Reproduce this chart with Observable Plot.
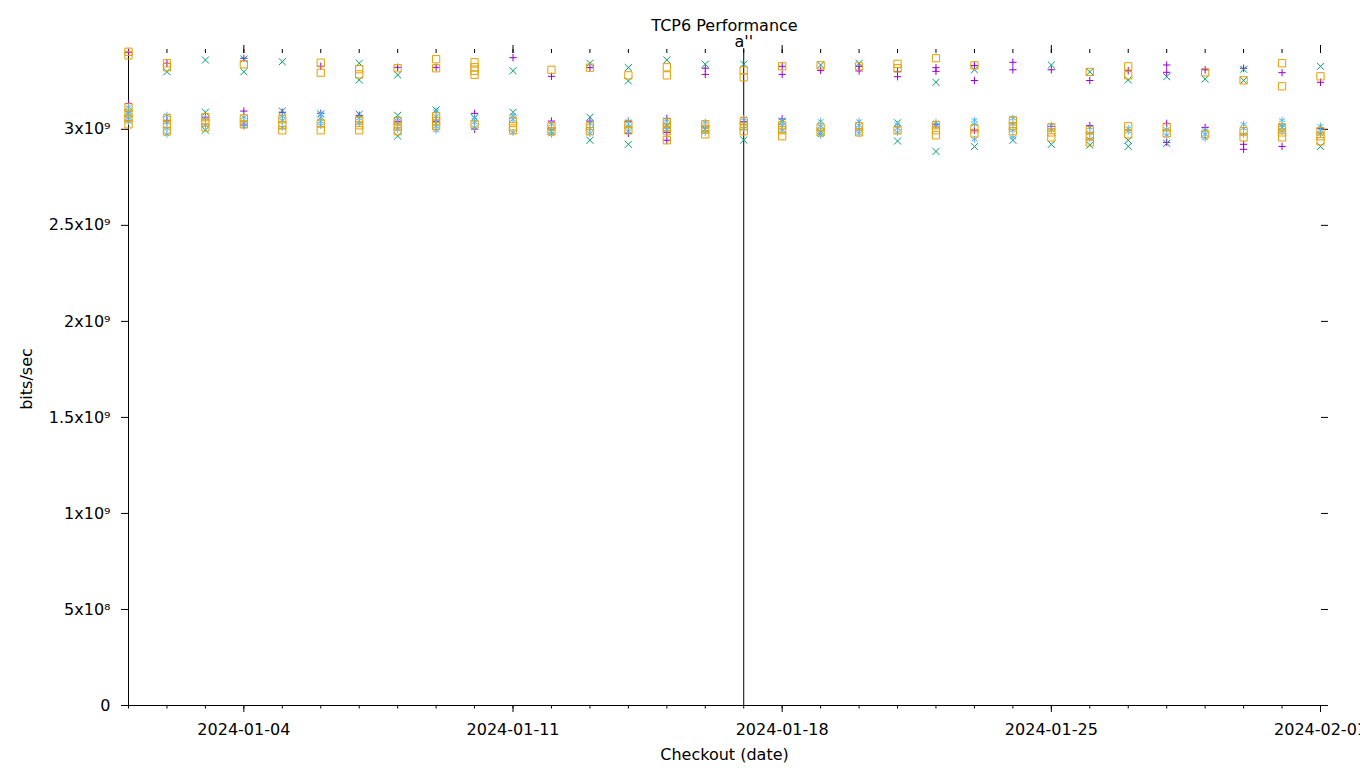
<!DOCTYPE html>
<html><head><meta charset="utf-8">
<script src="https://cdn.jsdelivr.net/npm/d3@7"></script>
<script src="https://cdn.jsdelivr.net/npm/@observablehq/plot@0.6"></script>
<style>
html,body{margin:0;padding:0;background:#fff;overflow:hidden}
#chart svg{display:block}
</style></head><body><div id="chart"></div>
<script>
// ---- data ----
const dates = ["2024-01-01","2024-01-02","2024-01-03","2024-01-04","2024-01-05","2024-01-06","2024-01-07","2024-01-08",
  "2024-01-09","2024-01-10","2024-01-11","2024-01-12","2024-01-13","2024-01-14","2024-01-15","2024-01-16",
  "2024-01-17","2024-01-18","2024-01-19","2024-01-20","2024-01-21","2024-01-22","2024-01-23","2024-01-24",
  "2024-01-25","2024-01-26","2024-01-27","2024-01-28","2024-01-29","2024-01-30","2024-01-31","2024-02-01"];

// values in Gbit/s (x1e9), one list per day
const seriesPlus = [
  [3.401,3.135,3.047],[3.344,3.047],[3.063],[3.370,3.095,3.022],[3.089],[3.328,3.083],[3.073],[3.323,3.042],
  [3.323,3.042],[3.083,3.001],[3.373],[3.276,3.043],[3.321,3.043],[3.042,2.979],[3.057,2.984,2.943],[3.318,3.286],
  [3.040],[3.328,3.286,3.054],[3.307],[3.328,3.304],[3.300,3.274],[3.321,3.302,3.026],[3.332,3.254,2.996],[3.349,3.310],
  [3.310,3.015],[3.254,3.020],[3.305],[3.335,3.297,3.031,2.932],[3.310,3.010],[3.318,2.922,2.896],[3.295,2.911],[3.245,3.005]
];
const seriesTimes = [
  [3.080],[3.300],[3.361,3.089,2.996],[3.366,3.300],[3.352,3.095],[3.080],[3.344,3.257,3.078],[3.283,3.073,2.965],
  [3.101],[3.060],[3.305,3.089],[2.990],[3.344,3.063,2.943],[3.321,3.252,2.922],[3.361,3.020],[3.339,3.000],
  [3.339,2.944],[3.040],[3.335,2.984],[3.344],[3.034,2.939],[3.245,2.885],[3.310,2.910],[2.943],
  [3.335,2.922],[3.299,2.918],[3.257,2.943,2.911],[3.274,2.927],[3.262],[3.313,3.255],[3.010],[3.328,2.911]
];
const seriesStar = [
  [3.115,3.090,3.060,3.040],[3.073,3.036,3.005,2.974],[3.057,3.021],[3.063,3.036,3.016],[3.068,3.047,3.010],[3.078,3.060,3.040,3.020],[3.057,3.031],[3.057,3.026,3.000],
  [3.094,3.068,3.042,3.016,2.995],[3.063,3.036,3.010],[3.073,3.050,2.984],[3.026,3.000,2.974],[3.031,3.005,2.979],[3.042,3.016,2.990],[3.050,3.021,3.000],[3.036,3.010,2.984],
  [3.057,3.031,3.005],[3.047,3.021,2.995],[3.042,3.016,2.990,2.969],[3.042,3.021,3.000,2.979],[3.026,3.005,2.984],[3.036,3.016],[3.047,3.026,2.948],[3.057,3.026,2.995,2.958],
  [3.021,2.995],[3.010,2.980,2.950],[3.005,2.990],[3.000,2.970],[2.995,2.974,2.953],[3.026,3.005,2.974],[3.047,3.021,2.990],[3.016,2.995,2.975]
];
const seriesSquare = [
  [3.404,3.385,3.114,3.083,3.057,3.026],[3.344,3.323,3.057,3.026,2.990],[3.063,3.036,3.010],[3.339,3.057,3.026],[3.052,3.021,2.995],[3.347,3.295,3.031,2.995],[3.313,3.286,3.047,3.021,2.995],[3.318,3.042,3.016,2.990],
  [3.365,3.318,3.068,3.042,3.016],[3.349,3.323,3.305,3.284,3.026],[3.042,3.016,2.995],[3.310,3.016,2.990],[3.321,3.016,2.990],[3.281,3.026,2.995],[3.323,3.281,3.036,3.010,2.990,2.943],[3.026,3.000,2.974],
  [3.307,3.271,3.042,3.016,2.990],[3.328,3.021,2.995,2.964],[3.333,3.010,2.984],[3.328,3.016,2.984],[3.341,3.318,2.995],[3.370,3.021,2.995,2.969],[3.333,3.005,2.979],[3.047,3.016,2.990],
  [3.010,2.984,2.958],[3.299,2.995,2.964,2.932],[3.328,3.281,3.016,2.974],[3.010,2.979],[3.297,2.974],[3.255,2.990,2.958],[3.344,3.224,3.010,2.984,2.958],[3.276,2.990,2.964,2.938]
];

const yTicks = [0, 5e8, 1e9, 1.5e9, 2e9, 2.5e9, 3e9];
const yTickLabels = ["0", "5x10⁸", "1x10⁹", "1.5x10⁹", "2x10⁹", "2.5x10⁹", "3x10⁹"];
const xTickLabels = ["2024-01-04", "2024-01-11", "2024-01-18", "2024-01-25", "2024-02-01"];
const markerDates = ["2024-01-17"];
const markerLabels = ["a''"];
const titleText = "TCP6 Performance";
const xLabel = "Checkout (date)";
const yLabel = "bits/sec";

// ---- styles ----
const styles = [
  {data: seriesPlus, symbol: "plus", color: "#9400d3", r: 2.5},
  {data: seriesTimes, symbol: "times", color: "#009e73", r: 3.3},
  {data: seriesStar, symbol: "asterisk", color: "#56b4e9", r: 3.3},
  {data: seriesSquare, symbol: "square", color: "#e69f00", r: 4.1}
];

const toRows = (arr) => arr.flatMap((vals, i) => vals.map(v => ({date: new Date(dates[i]), value: v * 1e9})));
const dayTicks = dates.map(d => new Date(d));
const weekTicks = xTickLabels.map(d => new Date(d));
const fmtX = d => xTickLabels.find(s => +new Date(s) === +d) ?? "";
const fmtY = d => yTickLabels[yTicks.indexOf(d)] ?? "";
const markers = markerDates.map((d, i) => ({date: new Date(d), label: markerLabels[i]}));

const chart = Plot.plot({
  width: 1360,
  height: 768,
  marginLeft: 128,
  marginRight: 40,
  marginTop: 52,
  marginBottom: 63,
  style: {fontFamily: "'DejaVu Sans', sans-serif", fontSize: "16px", background: "white", color: "black"},
  x: {type: "utc", domain: [new Date(dates[0]), new Date(dates[dates.length - 1])]},
  y: {domain: [0, 3.4e9]},
  marks: [
    Plot.axisX({anchor: "bottom", ticks: dayTicks, tickSize: 3.5, tickFormat: () => "", label: null}),
    Plot.axisX({anchor: "bottom", ticks: weekTicks, tickSize: 7, tickPadding: 11, tickFormat: fmtX, label: null}),
    Plot.axisX({anchor: "top", ticks: dayTicks, tickSize: 4, tickFormat: () => "", label: null}),
    Plot.axisX({anchor: "top", ticks: weekTicks, tickSize: 8, tickFormat: () => "", label: null}),
    Plot.axisY({anchor: "left", ticks: yTicks, tickSize: 7, tickPadding: 11, tickFormat: fmtY, label: null}),
    Plot.axisY({anchor: "right", ticks: yTicks, tickSize: 7, tickFormat: () => "", label: null}),
    Plot.ruleX([new Date(dates[0])], {stroke: "black"}),
    Plot.ruleY([0], {stroke: "black"}),
    Plot.ruleX(markers, {x: "date", stroke: "black", y1: 0, y2: 3.42e9, clip: false}),
    Plot.text(markers, {x: "date", text: "label", frameAnchor: "top", lineAnchor: "bottom", dy: -6, fill: "black"}),
    ...styles.map(s => Plot.dot(toRows(s.data), {x: "date", y: "value", symbol: s.symbol, stroke: s.color, fill: "none", r: s.r, strokeWidth: 1})),
    Plot.text([titleText], {frameAnchor: "top", lineAnchor: "bottom", dy: -22, fill: "black"}),
    Plot.text([xLabel], {frameAnchor: "bottom", lineAnchor: "bottom", dy: 54, fill: "black"}),
    Plot.text([yLabel], {frameAnchor: "left", textAnchor: "middle", lineAnchor: "bottom", rotate: -90, dx: -97, fill: "black"})
  ]
});
document.getElementById("chart").appendChild(chart);
</script>
</body></html>
